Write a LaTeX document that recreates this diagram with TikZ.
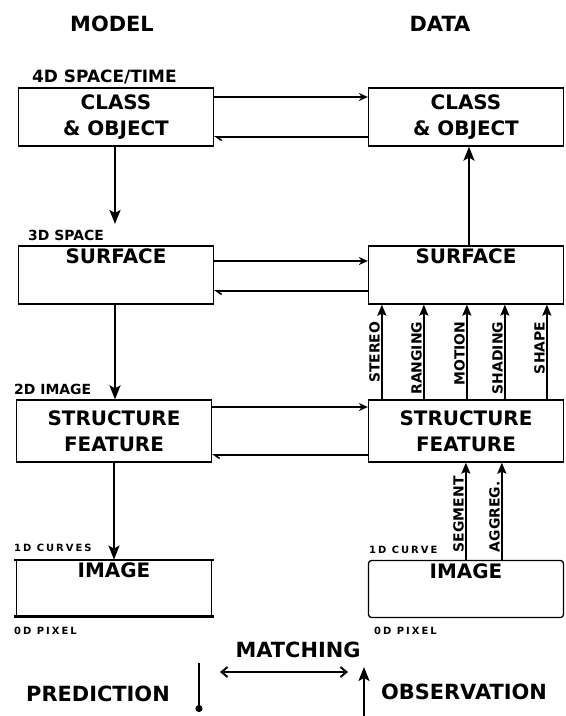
\documentclass[tikz,border=0pt]{standalone}
\usepackage{fontspec}
\setmainfont{DejaVu Sans}
\usetikzlibrary{arrows.meta,positioning,calc}

\begin{document}
\begin{tikzpicture}[x=1bp,y=-1bp,
  box/.style={rectangle,draw,line width=1.3pt,minimum width=195bp,inner sep=0pt},
  boxtext/.style={font=\fontsize{20}{26}\selectfont\bfseries,align=center},
  head/.style={font=\fontsize{21}{25}\selectfont\bfseries},
  level/.style={font=\fontsize{14}{16}\selectfont\bfseries,anchor=base west,inner sep=0pt},
  small/.style={font=\fontsize{10}{12}\selectfont\bfseries\addfontfeature{LetterSpace=20},anchor=base west,inner sep=0pt},
  cue/.style={font=\fontsize{14}{16}\selectfont\bfseries,rotate=90,inner sep=1pt},
  down/.style={line width=2.4pt,-{Stealth[length=14pt,width=11pt,inset=3pt]}},
  cuearrow/.style={line width=1.9pt,-{Stealth[length=11pt,width=9pt,inset=2pt]}},
  fwd/.style={line width=1.6pt,-{Stealth[length=9pt,width=8pt]}},
  back/.style={line width=1.6pt,-{Straight Barb[left,length=5pt,width=7pt]}},
  both/.style={line width=2pt,{Straight Barb[length=6pt,width=10pt]}-{Straight Barb[length=6pt,width=10pt]}},
]
\useasboundingbox (0,0) rectangle (566,716);

% column heads
\node[head] (model) at (112,24) {MODEL};
\node[head] (data) at (440,24) {DATA};

% model column
\node[box,minimum height=58bp] (mclass) at (116,117) {};
\node[boxtext] (mclasst) at (mclass) {CLASS\\\& OBJECT};
\node[box,minimum height=58bp] (msurf) at (116,275) {};
\node[boxtext,below=0bp of msurf.north] (msurft) {SURFACE};
\node[box,minimum height=62bp] (mstruct) at (114,431) {};
\node[boxtext] (mstructt) at (mstruct) {STRUCTURE\\FEATURE};
\node[box,line width=0.8pt,minimum height=56bp] (mimg) at (114,588) {};
\node[boxtext,below=0bp of mimg.north] (mimgt) {IMAGE};
\draw[line width=2.2pt] ([xshift=-2bp]mimg.north west) -- ([xshift=2bp]mimg.north east);
\draw[line width=2.2pt] ([xshift=-2bp]mimg.south west) -- ([xshift=2bp]mimg.south east);

% level labels
\node[level,font=\fontsize{17}{19}\selectfont\bfseries] (l4) at (32,83) {4D SPACE/TIME};
\node[level] (l3) at (28,240) {3D SPACE};
\node[level] (l2) at (14,394) {2D IMAGE};
\node[small] (l1) at (14,551) {1D CURVES};
\node[small] (l0) at (14,634) {0D PIXEL};
\node[small] (d1) at (369,553) {1D CURVE};
\node[small] (d0) at (374,634) {0D PIXEL};

% data column
\node[box,minimum height=58bp] (dclass) at (466,117) {};
\node[boxtext] (dclasst) at (dclass) {CLASS\\\& OBJECT};
\node[box,minimum height=58bp] (dsurf) at (466,275) {};
\node[boxtext,below=0bp of dsurf.north] (dsurft) {SURFACE};
\node[box,minimum height=62bp] (dstruct) at (466,431) {};
\node[boxtext] (dstructt) at (dstruct) {STRUCTURE\\FEATURE};
\node[box,rounded corners=3pt,minimum height=57bp] (dimg) at (466,589) {};
\node[boxtext,below=0bp of dimg.north] (dimgt) {IMAGE};

% prediction down the model side
\coordinate (mtip) at (115,224);
\draw[down] (mclass.south -| mtip) -- (mtip);
\draw[down] (msurf.south -| mtip) -- (mstruct.north -| mtip);
\draw[down] (mstruct.south) -- (mimg.north);

% observation up the data side
\draw[down] ([xshift=3bp]dsurf.north) -- ([xshift=3bp]dclass.south);
\foreach \dx/\cue in {14/STEREO,56/RANGING,99/MOTION,137/SHADING,179/SHAPE}{
  \draw[cuearrow] ([xshift=\dx bp]dstruct.north west) -- ([xshift=\dx bp]dsurf.south west)
    node[cue,anchor=south east,pos=0.84] (c\dx) {\cue};
}
\foreach \dx/\cue in {98/SEGMENT,134/AGGREG.}{
  \draw[cuearrow] ([xshift=\dx bp]dimg.north west) -- ([xshift=\dx bp]dstruct.south west)
    node[cue,anchor=south west,pos=0.06] (s\dx) {\cue};
}

% matching across
\draw[fwd] ([yshift=20bp]mclass.east) -- ([yshift=20bp]dclass.west);
\draw[back] ([yshift=-20bp]dclass.west) -- ([yshift=-20bp]mclass.east);
\draw[fwd] ([yshift=14bp]msurf.east) -- ([yshift=14bp]dsurf.west);
\draw[back] ([yshift=-16bp]dsurf.west) -- ([yshift=-16bp]msurf.east);
\draw[fwd] ([yshift=24bp]mstruct.east) -- ([yshift=24bp]dstruct.west);
\draw[back] ([yshift=-24bp]dstruct.west) -- ([yshift=-24bp]mstruct.east);

% legend
\node[head] (match) at (298,650) {MATCHING};
\coordinate (mleft) at (220,672);
\coordinate (mright) at (348,672);
\draw[both] (mleft) -- (mright);
\node[head] (pred) at (98,694) {PREDICTION};
\coordinate (ptop) at (199,663);
\coordinate (pbot) at (199,712);
\draw[line width=2.4pt,-{Circle[length=7pt]}] (ptop) -- (pbot);
\node[head] (obs) at (464,692) {OBSERVATION};
\coordinate (obot) at (364,716);
\coordinate (otop) at (364,667);
\draw[down] (obot) -- (otop);
\end{tikzpicture}
\end{document}
